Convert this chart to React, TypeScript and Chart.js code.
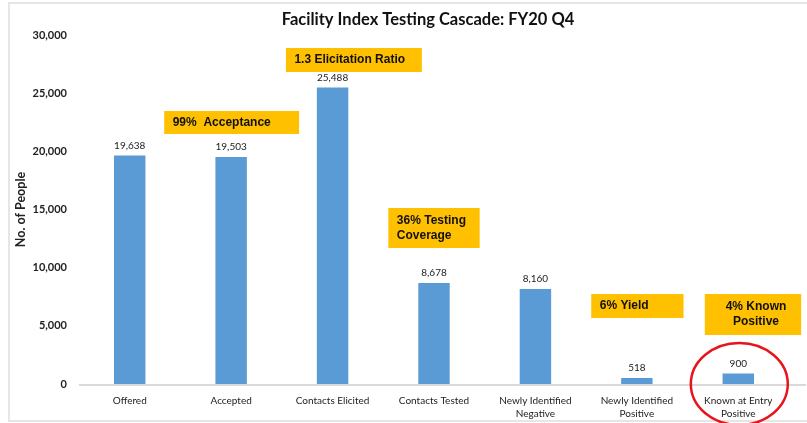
import React, { useEffect, useRef } from "react";
import { Chart, registerables } from "chart.js";

Chart.register(...registerables);

const chartTitle = "Facility Index Testing Cascade: FY20 Q4";
const yAxisTitle = "No. of People";
const categories: string[][] = [
  ["Offered"],
  ["Accepted"],
  ["Contacts Elicited"],
  ["Contacts Tested"],
  ["Newly Identified", "Negative"],
  ["Newly Identified", "Positive"],
  ["Known at Entry", "Positive"],
];
const values = [19638, 19503, 25488, 8678, 8160, 518, 900];
const yMin = 0;
const yMax = 30000;
const yStep = 5000;

// Callout boxes, placed in data space (category index, value)
const calloutLines: string[][] = [
  ["99%  Acceptance"],
  ["1.3 Elicitation Ratio"],
  ["36% Testing", "Coverage"],
  ["6% Yield"],
  ["4% Known", "Positive"],
];
const calloutFromIndex = [0.34, 1.54, 2.55, 4.55, 5.67];
const calloutToIndex = [1.67, 2.88, 3.45, 5.46, 6.62];
const calloutTopValue = [23467, 28883, 15129, 7736, 7736];
const calloutBottomValue = [21490, 26820, 11690, 5673, 4212];
const calloutAlign = ["left", "left", "left", "left", "center"];

// Highlight ring around the last category
const ringIndex = 6.01;
const ringValue = 0;
const ringHalfWidthIndex = 0.478;
const ringHalfHeightValue = 3524;

const BAR_COLOR = "#5B9BD5";
const CALLOUT_COLOR = "#FFC000";
const FONT = "Lato, 'Liberation Sans', sans-serif";
const ARIAL = "'Liberation Sans', Arial, sans-serif";

const fmt = (v: number) => v.toLocaleString("en-US");

const decorPlugin = {
  id: "decor",
  beforeDraw(chart: any) {
    const ctx = chart.ctx;
    ctx.save();
    ctx.fillStyle = "#ffffff";
    ctx.fillRect(0, 0, chart.width, chart.height);
    ctx.restore();
  },
  afterDatasetsDraw(chart: any) {
    const ctx = chart.ctx;
    const xs = chart.scales.x;
    const ys = chart.scales.y;
    const area = chart.chartArea;
    const xAt = (i: number) => {
      const p0 = xs.getPixelForValue(0);
      const p1 = xs.getPixelForValue(1);
      return p0 + (p1 - p0) * i;
    };
    ctx.save();

    // frame
    ctx.strokeStyle = "#E6E6E6";
    ctx.lineWidth = 2;
    ctx.strokeRect(9, 3, chart.width - 8, chart.height - 5);

    // x axis line
    ctx.strokeStyle = "#D9D9D9";
    ctx.lineWidth = 2;
    ctx.beginPath();
    ctx.moveTo(area.left, ys.getPixelForValue(0) + 1);
    ctx.lineTo(chart.width - 1, ys.getPixelForValue(0) + 1);
    ctx.stroke();

    // data labels
    const meta = chart.getDatasetMeta(0);
    ctx.fillStyle = "#222222";
    ctx.font = `10px ${FONT}`;
    ctx.textAlign = "center";
    ctx.textBaseline = "middle";
    meta.data.forEach((el: any, i: number) => {
      ctx.fillText(fmt(values[i]), el.x, el.y - 10);
    });

    // callouts
    calloutLines.forEach((lines, k) => {
      const x0 = xAt(calloutFromIndex[k]);
      const x1 = xAt(calloutToIndex[k]);
      const y0 = ys.getPixelForValue(calloutTopValue[k]);
      const y1 = ys.getPixelForValue(calloutBottomValue[k]);
      ctx.fillStyle = CALLOUT_COLOR;
      ctx.fillRect(x0, y0, x1 - x0, y1 - y0);
      ctx.fillStyle = "#111111";
      ctx.font = `bold 12px ${ARIAL}`;
      ctx.textBaseline = "middle";
      const lh = 15;
      const cy = (y0 + y1) / 2 - ((lines.length - 1) * lh) / 2;
      lines.forEach((ln, j) => {
        if (calloutAlign[k] === "center") {
          ctx.textAlign = "center";
          ctx.fillText(ln, (x0 + x1) / 2 + 3, cy + j * lh);
        } else {
          ctx.textAlign = "left";
          ctx.fillText(ln, x0 + 8.5, cy + j * lh);
        }
      });
    });

    // ring
    const rcx = xAt(ringIndex);
    const rcy = ys.getPixelForValue(ringValue);
    const rrx = xAt(ringIndex + ringHalfWidthIndex) - rcx;
    const rry = rcy - ys.getPixelForValue(ringHalfHeightValue);
    ctx.strokeStyle = "#E8141B";
    ctx.lineWidth = 2.5;
    ctx.beginPath();
    ctx.ellipse(rcx, rcy, rrx, rry, 0, 0, Math.PI * 2);
    ctx.stroke();

    // title
    ctx.fillStyle = "#111111";
    ctx.font = `bold 16.5px ${FONT}`;
    ctx.textAlign = "center";
    ctx.textBaseline = "middle";
    ctx.fillText(chartTitle, 428, 20);

    // y title
    ctx.save();
    ctx.translate(21, (area.top + area.bottom) / 2);
    ctx.rotate(-Math.PI / 2);
    ctx.font = `bold 12.5px ${FONT}`;
    ctx.fillStyle = "#222222";
    ctx.textAlign = "center";
    ctx.textBaseline = "middle";
    ctx.fillText(yAxisTitle, 0, 0);
    ctx.restore();

    ctx.restore();
  },
};

export default function App() {
  const ref = useRef<HTMLCanvasElement | null>(null);
  useEffect(() => {
    document.body.style.margin = "0";
    const canvas = ref.current;
    if (!canvas) return;
    const chart = new Chart(canvas, {
      type: "bar",
      data: {
        labels: categories,
        datasets: [
          {
            data: values,
            backgroundColor: BAR_COLOR,
            borderWidth: 0,
            barPercentage: 0.31,
            categoryPercentage: 1,
          },
        ],
      },
      options: {
        animation: false,
        responsive: false,
        devicePixelRatio: 1,
        layout: { padding: { top: 35, right: 18, left: 0, bottom: 0 } },
        plugins: {
          legend: { display: false },
          title: { display: false },
          tooltip: { enabled: false },
        },
        scales: {
          x: {
            grid: { display: false, drawTicks: false },
            border: { display: false },
            ticks: {
              color: "#222222",
              font: { family: FONT, size: 10, lineHeight: 1.3 },
              padding: 10,
              maxRotation: 0,
              autoSkip: false,
            },
            afterFit: (s: any) => {
              s.height = 39;
            },
          },
          y: {
            min: yMin,
            max: yMax,
            grid: { display: false, drawTicks: false },
            border: { display: false },
            ticks: {
              stepSize: yStep,
              color: "#222222",
              padding: 12,
              font: { family: FONT, size: 11, weight: "bold" },
              callback: (v: any) => fmt(Number(v)),
            },
            afterFit: (s: any) => {
              s.width = 79;
            },
          },
        },
      },
      plugins: [decorPlugin],
    } as any);
    return () => chart.destroy();
  }, []);
  return (
    <div style={{ width: 807, height: 423, position: "relative" }}>
      <canvas ref={ref} width={807} height={423} style={{ display: "block" }} />
    </div>
  );
}
